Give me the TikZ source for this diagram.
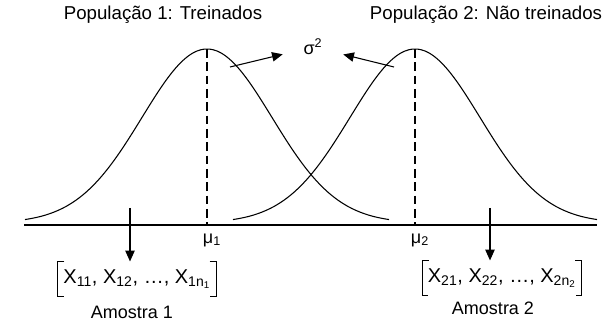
\documentclass[tikz,border=0pt]{standalone}
\usepackage{fontspec}
\setmainfont{Liberation Sans}
\usetikzlibrary{arrows.meta,calc}

\begin{document}
\begin{tikzpicture}[
  x=0.75pt,y=0.75pt,
  curve/.style={line width=0.8pt},
  axisline/.style={line width=1pt},
  meanline/.style={line width=0.8pt, dash pattern=on 6.5pt off 3.5pt},
  arrow/.style={-{Triangle[length=8pt,width=7pt]}, line width=0.8pt},
  txt/.style={font=\fontsize{13.5}{16}\selectfont, inner sep=1pt},
  title/.style={font=\fontsize{14}{17}\selectfont, inner sep=1pt},
  sample/.style={font=\fontsize{15}{18}\selectfont, inner xsep=4pt, inner ysep=2pt,
    minimum height=26pt},
  bracket/.style={line width=0.8pt}
]
\useasboundingbox (0,0) rectangle (607,324);

% Titles of the two populations
\node[title] (t1) at (163,309) {População 1: Treinados};
\node[title] (t2) at (486,309) {População 2: Não treinados};

% Axis and the two bell curves
\coordinate (axl) at (24,99);
\coordinate (axr) at (597,99);
\draw[axisline] (axl) -- (axr);
\draw[curve, domain=25:389, samples=90, smooth]
  plot (\x, {101 + 174*exp(-0.5*((\x-207)/65)^2)});
\draw[curve, domain=233:597, samples=90, smooth]
  plot (\x, {101 + 174*exp(-0.5*((\x-415)/65)^2)});

% Means
\coordinate (pk1) at (207,275);
\coordinate (pk2) at (415,275);
\draw[meanline] (pk1) -- (pk1 |- axl);
\draw[meanline] (pk2) -- (pk2 |- axl);
\node[txt] (mu1) at (212,84) {μ\textsubscript{1}};
\node[txt] (mu2) at (420,84) {μ\textsubscript{2}};

% Common variance
\node[txt, minimum width=45pt, minimum height=15pt] (sig) at (313,277) {σ\textsuperscript{2}};
\coordinate (g1) at (230,257);
\coordinate (g2) at (394,257);
\draw[arrow] (g1) -- (sig);
\draw[arrow] (g2) -- (sig);

% Samples drawn from each population
\node[sample] (s1) at (137,45) {X\textsubscript{11}, X\textsubscript{12}, …, X\textsubscript{1n\textsubscript{1}}};
\node[sample] (s2) at (502,46) {X\textsubscript{21}, X\textsubscript{22}, …, X\textsubscript{2n\textsubscript{2}}};
\draw[bracket] ([xshift=5pt]s1.north west) -| (s1.south west) -- ++(6,0);
\draw[bracket] ([xshift=-5pt]s1.north east) -| (s1.south east) -- ++(-6,0);
\draw[bracket] ([xshift=5pt]s2.north west) -| (s2.south west) -- ++(6,0);
\draw[bracket] ([xshift=-5pt]s2.north east) -| (s2.south east) -- ++(-6,0);
\node[txt] (a1) at (132,12) {Amostra 1};
\node[txt] (a2) at (493,16) {Amostra 2};

\coordinate (d1) at (130,116);
\coordinate (d2) at (490,116);
\draw[arrow] (d1) -- (d1 |- s1.north);
\draw[arrow] (d2) -- (d2 |- s2.north);

\end{tikzpicture}
\end{document}
